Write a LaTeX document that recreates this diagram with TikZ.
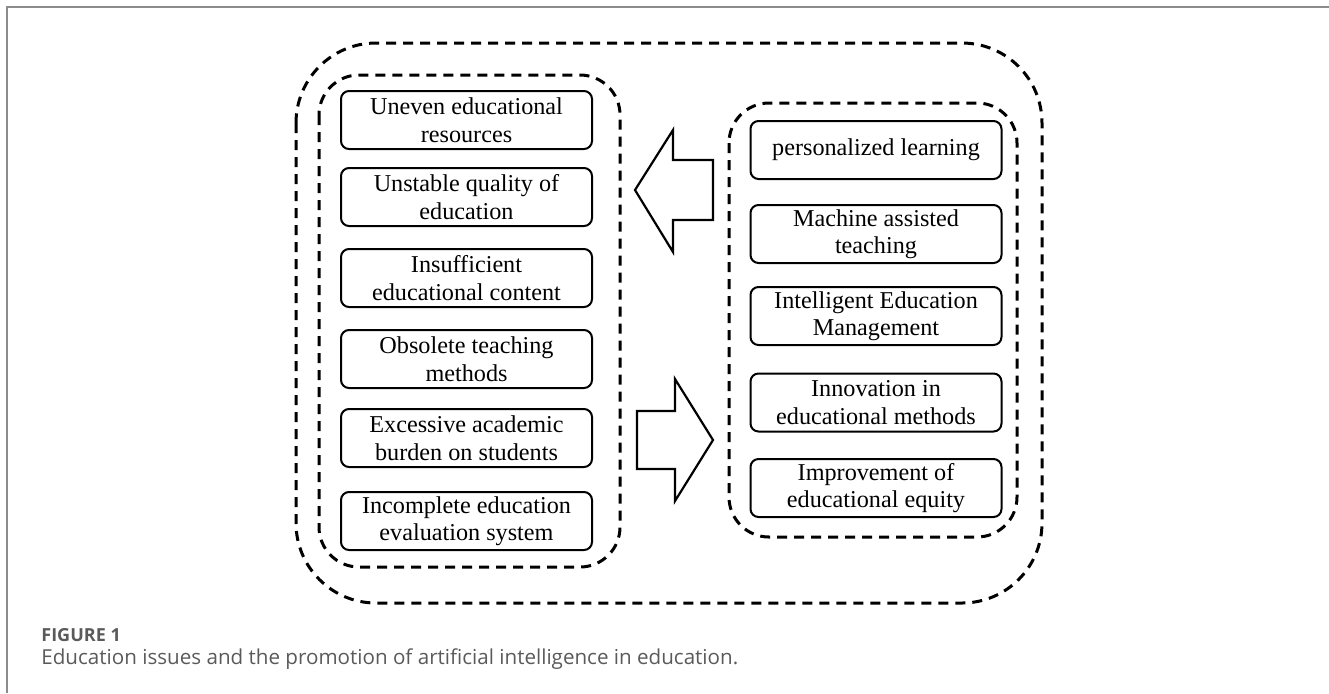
\documentclass[tikz,border=0pt]{standalone}
\usepackage{fontspec}
\setmainfont{Liberation Serif}
\newfontfamily\capfont{Open Sans}
\usetikzlibrary{positioning}
\definecolor{framegray}{HTML}{8C8C8C}
\definecolor{captiongray}{HTML}{5A5A5A}

\begin{document}
\begin{tikzpicture}[x=0.5pt,y=-0.5pt,black,
    item/.style={draw,rounded corners=4pt,line width=1pt,minimum width=125.5pt,
        minimum height=29pt,inner sep=0pt,align=center,
        font=\fontsize{12.1}{13.75}\selectfont},
    zone/.style={line width=1.5pt,dash pattern=on 5pt off 3.5pt},
    blockarrow/.style={line width=1.1pt,line join=miter}]
    \useasboundingbox (0,0) rectangle (1329,693);
    \draw[framegray,line width=1pt] (7,693) -- (7,7) -- (1329,7);
    \draw[zone,rounded corners=40pt] (296,43) rectangle (1042,603);
    \draw[zone,rounded corners=20pt] (319,75) rectangle (620,567);
    \draw[zone,rounded corners=20pt] (729,103) rectangle (1017,537);
    \node[item] (uneven) at (466.5,120) {Uneven educational\\resources};
    \node[item] (quality) at (466.5,197) {Unstable quality of\\education};
    \node[item] (content) at (466.5,278) {Insufficient\\educational content};
    \node[item] (methods) at (466.5,359) {Obsolete teaching\\methods};
    \node[item] (burden) at (466.5,438) {Excessive academic\\burden on students};
    \node[item] (evaluation) at (466.5,521) {Incomplete education\\evaluation system};
    \node[item] (personal) at (876,150) {personalized learning};
    \node[item] (machine) at (876,234) {Machine assisted\\teaching};
    \node[item] (management) at (876,316) {Intelligent Education\\Management};
    \node[item] (innovation) at (876,402.5) {Innovation in\\educational methods};
    \node[item] (equity) at (876,488) {Improvement of\\educational equity};
    \draw[blockarrow] (713,160) -- (673,160) -- (673,130) -- (635,190)
        -- (673,252) -- (673,220) -- (713,220) -- cycle;
    \draw[blockarrow] (637,411) -- (675,411) -- (675,379) -- (713,440)
        -- (675,501) -- (675,469) -- (637,469) -- cycle;
    \node[anchor=base west,inner sep=0pt,text=captiongray,
        font=\capfont\bfseries\fontsize{9}{10}\selectfont] (figlabel) at (41,641) {FIGURE 1};
    \node[anchor=base west,inner sep=0pt,text=captiongray,
        font=\capfont\fontsize{10.3}{12}\selectfont] (figcaption) at (41,664)
        {Education issues and the promotion of artificial intelligence in education.};
\end{tikzpicture}
\end{document}
